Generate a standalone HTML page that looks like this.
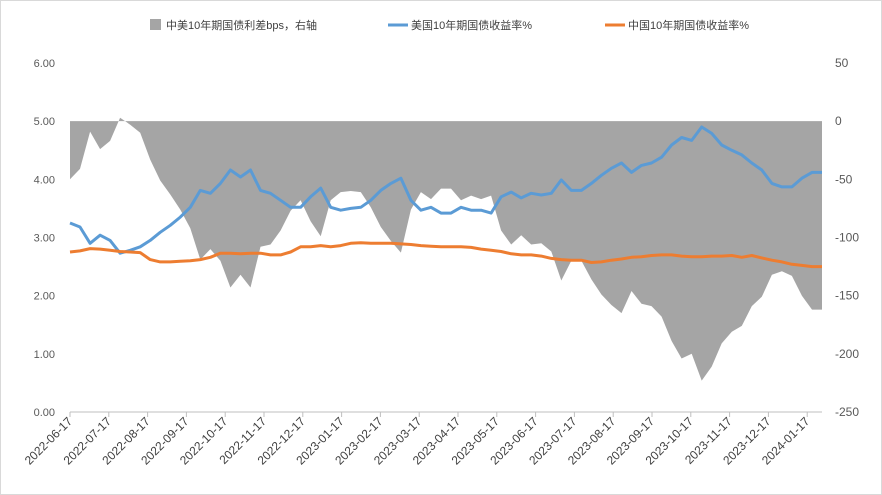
<!DOCTYPE html>
<html><head><meta charset="utf-8"><style>
body{margin:0;background:#fff;}
svg{display:block;font-family:"Liberation Sans","Noto Sans CJK SC",sans-serif;}
</style></head><body>
<svg id="chart" width="882" height="495">
<rect x="0.5" y="0.5" width="881" height="494" fill="#fff" stroke="#d9d9d9"/>
<g>
<rect x="150" y="19" width="11" height="11" fill="#a5a5a5"/>
<text x="166" y="29" font-size="11" fill="#404040">中美10年期国债利差bps，右轴</text>
<line x1="388" y1="25" x2="408" y2="25" stroke="#5b9bd5" stroke-width="3"/>
<text x="411" y="29" font-size="11" fill="#404040">美国10年期国债收益率%</text>
<line x1="605" y1="25" x2="625" y2="25" stroke="#ed7d31" stroke-width="3"/>
<text x="628" y="29" font-size="11" fill="#404040">中国10年期国债收益率%</text>
</g>
<g id="plot"></g>
</svg>
<script>
const usYield=[3.25,3.18,2.9,3.04,2.95,2.73,2.78,2.84,2.95,3.09,3.21,3.35,3.52,3.81,3.76,3.93,4.16,4.04,4.16,3.81,3.76,3.64,3.52,3.52,3.70,3.85,3.52,3.47,3.50,3.52,3.64,3.81,3.93,4.02,3.64,3.47,3.52,3.42,3.42,3.52,3.47,3.47,3.42,3.70,3.78,3.68,3.76,3.73,3.76,3.99,3.81,3.81,3.93,4.07,4.19,4.28,4.12,4.24,4.28,4.38,4.59,4.72,4.67,4.90,4.79,4.59,4.50,4.42,4.28,4.16,3.93,3.87,3.87,4.02,4.12,4.12];
const cnYield=[2.75,2.77,2.81,2.80,2.78,2.76,2.75,2.74,2.62,2.58,2.58,2.59,2.60,2.62,2.66,2.73,2.73,2.72,2.73,2.73,2.70,2.70,2.75,2.84,2.84,2.86,2.84,2.86,2.90,2.91,2.90,2.90,2.90,2.89,2.88,2.86,2.85,2.84,2.84,2.84,2.83,2.80,2.78,2.76,2.72,2.70,2.70,2.68,2.64,2.62,2.61,2.61,2.57,2.58,2.61,2.63,2.66,2.67,2.69,2.70,2.70,2.68,2.67,2.67,2.68,2.68,2.69,2.66,2.69,2.65,2.61,2.58,2.54,2.52,2.50,2.50];
const spreadBps=[-50,-41,-9,-24,-17,3,-3,-10,-33,-51,-63,-76,-92,-119,-110,-120,-143,-132,-143,-108,-106,-94,-77,-68,-86,-99,-68,-61,-60,-61,-74,-91,-103,-113,-76,-61,-67,-58,-58,-68,-64,-67,-64,-94,-106,-98,-106,-105,-112,-137,-120,-120,-136,-149,-158,-165,-146,-157,-159,-168,-189,-204,-200,-223,-211,-191,-181,-176,-159,-151,-132,-129,-133,-150,-162,-162];
const dateLabels=["2022-06-17","2022-07-17","2022-08-17","2022-09-17","2022-10-17","2022-11-17","2022-12-17","2023-01-17","2023-02-17","2023-03-17","2023-04-17","2023-05-17","2023-06-17","2023-07-17","2023-08-17","2023-09-17","2023-10-17","2023-11-17","2023-12-17","2024-01-17"];
const leftTicks=["0.00","1.00","2.00","3.00","4.00","5.00","6.00"];
const rightTicks=["-250","-200","-150","-100","-50","0","50"];

const NS="http://www.w3.org/2000/svg";
const plot=document.getElementById('plot');
const X0=70,X1=822,Y0=412,Y1=63;
const xIdx=i=>X0+i*(X1-X0)/(usYield.length-1);
const yL=v=>Y0-(v-0)/(6-0)*(Y0-Y1);
const yR=v=>Y0-(v+250)/300*(Y0-Y1);
const xMonth=k=>X0+k*38.8;
function mk(tag,attrs){const e=document.createElementNS(NS,tag);for(const k in attrs)e.setAttribute(k,attrs[k]);plot.appendChild(e);return e;}

let d=`M${xIdx(0)},${yR(0)}`;
spreadBps.forEach((v,i)=>{d+=` L${xIdx(i).toFixed(1)},${yR(v).toFixed(1)}`;});
d+=` L${xIdx(spreadBps.length-1)},${yR(0)} Z`;
const area=mk('path',{d:d,fill:'#a5a5a5'});



function line(arr,color,name){
  const p=arr.map((v,i)=>`${xIdx(i).toFixed(1)},${yL(v).toFixed(1)}`).join(' ');
  const el=mk('polyline',{points:p,fill:'none',stroke:color,'stroke-width':3,'stroke-linejoin':'round'});
  
  
}
line(usYield,'#5b9bd5','us-yield-line');
line(cnYield,'#ed7d31','cn-yield-line');

const ax=mk('line',{x1:X0,y1:Y0,x2:X1,y2:Y0,stroke:'#bfbfbf'});


leftTicks.forEach(t=>{
  const el=mk('text',{x:55,y:yL(parseFloat(t))+4,'font-size':11,'text-anchor':'end',fill:'#595959'});
  el.textContent=t;
  
  
});
rightTicks.forEach(t=>{
  const el=mk('text',{x:835,y:yR(parseFloat(t))+4,'font-size':12,fill:'#595959'});
  el.textContent=t;
  
  
});
dateLabels.forEach((t,k)=>{
  const x=xMonth(k);
  const tk=mk('line',{x1:x,y1:Y0,x2:x,y2:Y0+5,stroke:'#bfbfbf'});
  
  
  const el=mk('text',{x:x+3,y:Y0+10,'font-size':12,'text-anchor':'end',fill:'#404040',transform:`rotate(-45 ${x+3} ${Y0+10})`});
  el.textContent=t;
  
  
});
</script>
</body></html>
